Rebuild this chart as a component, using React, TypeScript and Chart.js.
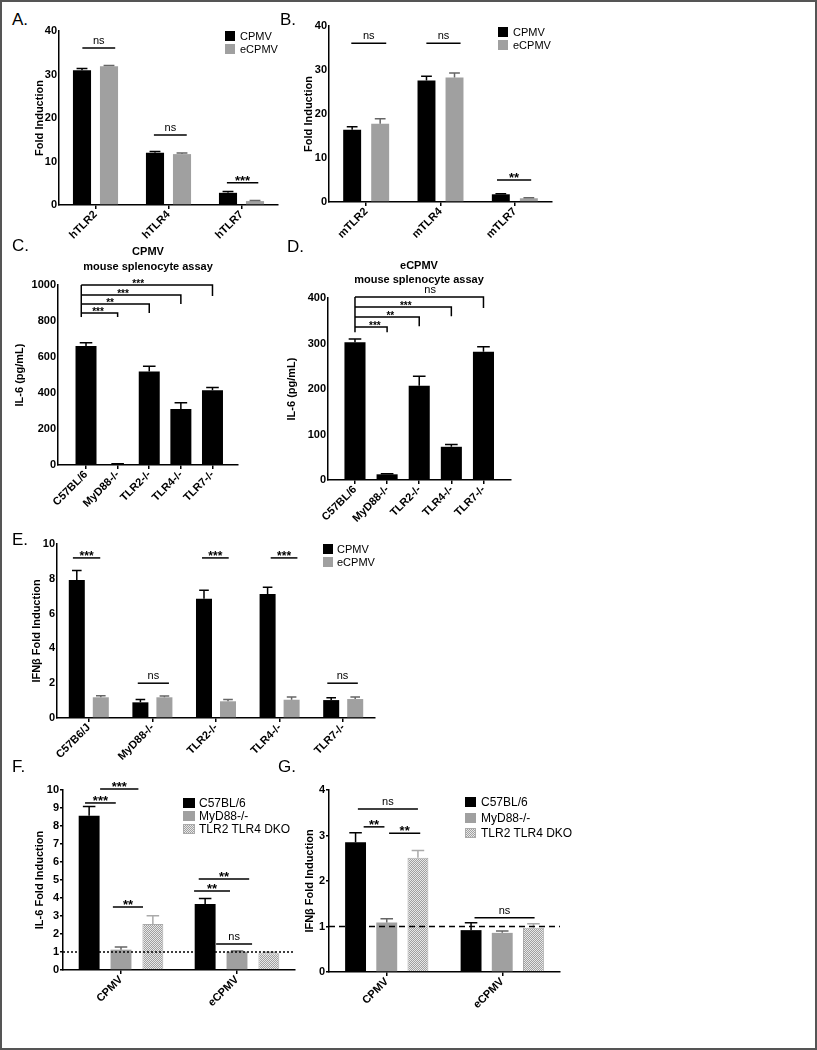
import React, { useEffect, useRef } from 'react';
import { Chart, registerables } from 'chart.js';

Chart.register(...registerables);

const FONT = '"Liberation Sans", Arial, Helvetica, sans-serif';
const BLACK = '#000000';
const GRAY = '#a0a0a0';
const GRAY_ERR = '#666666';
const DKO_ERR = '#aaaaaa';

// ---------------- data ----------------
// Panel A
const catsA = ['hTLR2', 'hTLR4', 'hTLR7'];
const cpmvA = [31.0, 12.0, 2.8];
const cpmvErrA = [0.4, 0.3, 0.3];
const ecpmvA = [31.9, 11.7, 0.9];
const ecpmvErrA = [0.15, 0.25, 0.15];
const sigA = [
  [0, -0.18, 0.27, 36.1, 'ns'],
  [1, -0.2, 0.25, 16.1, 'ns'],
  [2, -0.2, 0.23, 5.1, '***'],
];

// Panel B
const catsB = ['mTLR2', 'mTLR4', 'mTLR7'];
const cpmvB = [16.4, 27.6, 1.75];
const cpmvErrB = [0.7, 1.0, 0.1];
const ecpmvB = [17.8, 28.3, 0.85];
const ecpmvErrB = [1.1, 1.0, 0.1];
const sigB = [
  [0, -0.2, 0.27, 36.1, 'ns'],
  [1, -0.19, 0.27, 36.1, 'ns'],
  [2, -0.24, 0.22, 5.0, '**'],
];

// Panels C, D
const catsCD = ['C57BL/6', 'MyD88-/-', 'TLR2-/-', 'TLR4-/-', 'TLR7-/-'];
const il6C = [661, 5, 520, 311, 415];
const il6ErrC = [18, 2, 28, 35, 15];
// [target category, bracket level, drop level, text, label position]
const bracketsC = [
  [1, 844, 822, '***', 0.38],
  [2, 894, 844, '**', 0.76],
  [3, 944, 894, '***', 1.17],
  [4, 1000, 939, '***', 1.65],
];
const il6D = [303, 12.5, 207, 73, 282];
const il6ErrD = [7, 1.5, 21, 5, 11];
const bracketsD = [
  [1, 336, 325, '***', 0.62],
  [2, 358, 338, '**', 1.1],
  [3, 380, 360, '***', 1.58],
  [4, 402, 378, 'ns', 2.34],
];

// Panel E
const catsE = ['C57B6/J', 'MyD88-/-', 'TLR2-/-', 'TLR4-/-', 'TLR7-/-'];
const cpmvE = [7.93, 0.9, 6.86, 7.13, 1.03];
const cpmvErrE = [0.54, 0.17, 0.48, 0.38, 0.13];
const ecpmvE = [1.19, 1.19, 0.96, 1.05, 1.09];
const ecpmvErrE = [0.09, 0.08, 0.11, 0.15, 0.12];
const sigE = [
  [0, -0.25, 0.18, 9.2, '***'],
  [1, -0.23, 0.26, 2.0, 'ns'],
  [2, -0.22, 0.2, 9.2, '***'],
  [3, -0.14, 0.28, 9.2, '***'],
  [4, -0.25, 0.23, 2.0, 'ns'],
];

// Panels F, G
const catsFG = ['CPMV', 'eCPMV'];
const c57F = [8.57, 3.67];
const c57ErrF = [0.52, 0.3];
const myd88F = [1.13, 1.02];
const myd88ErrF = [0.15, 0.03];
const dkoF = [2.56, 0.93];
const dkoErrF = [0.46, 0.06];
const sigF = [
  [0, -0.31, -0.045, 9.28, '***'],
  [0, -0.18, 0.15, 10.06, '***'],
  [0, -0.07, 0.19, 3.5, '**'],
  [1, -0.37, -0.06, 4.39, '**'],
  [1, -0.33, 0.105, 5.06, '**'],
  [1, -0.18, 0.13, 1.44, 'ns'],
];
const c57G = [2.85, 0.92];
const c57ErrG = [0.21, 0.16];
const myd88G = [1.09, 0.86];
const myd88ErrG = [0.08, 0.04];
const dkoG = [2.51, 0.97];
const dkoErrG = [0.16, 0.09];
const sigG = [
  [0, -0.25, 0.27, 3.58, 'ns'],
  [0, -0.2, -0.02, 3.19, '**'],
  [0, 0.02, 0.29, 3.05, '**'],
  [1, -0.24, 0.28, 1.19, 'ns'],
];

// ---------------- helpers ----------------
function makePattern(): any {
  const c = document.createElement('canvas');
  c.width = 2;
  c.height = 2;
  const g = c.getContext('2d')!;
  g.fillStyle = '#e8e8e8';
  g.fillRect(0, 0, 2, 2);
  g.fillStyle = '#a0a0a0';
  g.fillRect(0, 0, 1, 1);
  g.fillRect(1, 1, 1, 1);
  return g.createPattern(c, 'repeat');
}

const TITLE_SIZE = 11;
const PAD_T = 26;
const PAD_R = 8;
const X_H = 62;

function annotPlugin(spec: any) {
  return {
    id: 'annot',
    afterDatasetsDraw(chart: any) {
      const ctx = chart.ctx;
      const xs = chart.scales.x;
      const ys = chart.scales.y;
      const px = (c: number, f: number) => xs.getPixelForValue(c + f);
      const py = (v: number) => ys.getPixelForValue(v);
      ctx.save();
      // error bars
      spec.datasets.forEach((d: any, di: number) => {
        const meta = chart.getDatasetMeta(di);
        meta.data.forEach((el: any, i: number) => {
          const p = el.getProps(['x', 'y', 'width'], true);
          const top = py(d.data[i] + d.errs[i]);
          const cw = p.width * 0.6;
          ctx.strokeStyle = d.errColor;
          ctx.lineWidth = 1.5;
          ctx.beginPath();
          ctx.moveTo(p.x, p.y);
          ctx.lineTo(p.x, top);
          ctx.moveTo(p.x - cw / 2, top);
          ctx.lineTo(p.x + cw / 2, top);
          ctx.stroke();
        });
      });
      // reference line at 1
      if (spec.refLine) {
        ctx.beginPath();
        ctx.setLineDash(spec.refLine === 'dotted' ? [2, 2] : [6, 4]);
        ctx.lineWidth = 1.5;
        ctx.strokeStyle = BLACK;
        const y = py(1);
        ctx.moveTo(chart.chartArea.left, y);
        ctx.lineTo(chart.chartArea.right, y);
        ctx.stroke();
        ctx.setLineDash([]);
      }
      const label = (t: string, x: number, y: number) => {
        ctx.fillStyle = BLACK;
        ctx.textAlign = 'center';
        ctx.textBaseline = 'alphabetic';
        if (t === 'ns') {
          ctx.font = `11px ${FONT}`;
          ctx.fillText(t, x, y - 4);
        } else {
          ctx.font = `bold ${spec.starSize || 12}px ${FONT}`;
          ctx.fillText(t, x, y + 2);
        }
      };
      ctx.strokeStyle = BLACK;
      ctx.lineWidth = 1.5;
      // significance lines
      (spec.sig || []).forEach((s: any) => {
        const [c, f1, f2, v, t] = s;
        const y = py(v);
        const x1 = px(c, f1);
        const x2 = px(c, f2);
        ctx.beginPath();
        ctx.moveTo(x1, y);
        ctx.lineTo(x2, y);
        ctx.stroke();
        label(t, (x1 + x2) / 2, y);
      });
      // brackets
      if (spec.brackets) {
        const lx = px(0, spec.bracketLeft || 0);
        const levels = spec.brackets.map((b: any) => b[1]);
        const drops = spec.brackets.map((b: any) => b[2]);
        ctx.beginPath();
        ctx.moveTo(lx, py(Math.max(...levels)));
        ctx.lineTo(lx, py(Math.min(...drops)));
        ctx.stroke();
        spec.brackets.forEach((b: any) => {
          const [to, lev, drop, t, lpos] = b;
          const y = py(lev);
          const rx = px(to, 0);
          ctx.beginPath();
          ctx.moveTo(lx, y);
          ctx.lineTo(rx, y);
          ctx.lineTo(rx, py(drop));
          ctx.stroke();
          label(t, px(lpos, 0), y);
        });
      }
      ctx.restore();
    },
  };
}

function Panel({ spec }: { spec: any }) {
  const ref = useRef<HTMLCanvasElement>(null);
  const lh = TITLE_SIZE * 1.2;
  const scaleLeft = spec.titleX - lh / 2;
  const cx = Math.floor(scaleLeft - 2);
  const padL = scaleLeft - cx;
  const yW = spec.area.l - scaleLeft;
  const cy = spec.area.t - PAD_T;
  const cw = spec.area.r + PAD_R - cx;
  const ch = spec.area.b + X_H - cy;

  useEffect(() => {
    const tickFont = { family: FONT, size: 11, weight: 'bold' as const, lineHeight: 1 };
    const gridX = {
      display: true,
      drawOnChartArea: false,
      drawTicks: true,
      tickLength: 4,
      color: BLACK,
      lineWidth: 1.5,
      offset: false,
    };
    const gridY = { ...gridX, tickLength: spec.yTick ?? 3 };
    const border = { display: true, color: BLACK, width: 1.5 };
    const chart = new Chart(ref.current as HTMLCanvasElement, {
      type: 'bar',
      data: {
        datasets: spec.datasets.map((d: any) => ({
          label: d.label,
          data: d.data.map((v: number, i: number) => ({ x: i, y: v })),
          backgroundColor: d.fill === 'pattern' ? makePattern() : d.fill,
          borderColor: d.border || d.fill,
          borderWidth: d.border ? 1 : 0,
          categoryPercentage: spec.catPct,
          barPercentage: spec.barPct,
        })),
      },
      options: {
        responsive: false,
        animation: false,
        devicePixelRatio: 1,
        layout: { padding: { left: padL, top: PAD_T, right: PAD_R, bottom: 0 } },
        plugins: { legend: { display: false }, tooltip: { enabled: false } },
        scales: {
          x: {
            type: 'linear',
            offset: false,
            min: spec.xMin,
            max: spec.xMax,
            bounds: 'data',
            afterBuildTicks: (s: any) => {
              s.ticks = spec.cats.map((_: string, i: number) => ({ value: i }));
            },
            afterFit: (s: any) => {
              s.height = X_H;
            },
            grid: gridX,
            border,
            ticks: {
              autoSkip: false,
              minRotation: 45,
              maxRotation: 45,
              padding: 0,
              color: BLACK,
              font: tickFont,
              callback: (_v: any, i: number) => spec.cats[i],
            },
          },
          y: {
            min: 0,
            max: spec.yMax,
            afterFit: (s: any) => {
              s.width = yW;
            },
            grid: gridY,
            border,
            ticks: {
              stepSize: spec.yStep,
              padding: 1,
              color: BLACK,
              font: tickFont,
              callback: (v: any) => String(v),
            },
            title: {
              display: true,
              text: spec.yTitle,
              color: BLACK,
              padding: 0,
              font: { family: FONT, size: TITLE_SIZE, weight: 'bold' },
            },
          },
        },
      } as any,
      plugins: [annotPlugin(spec)],
    } as any);
    return () => chart.destroy();
  }, []);

  return (
    <canvas
      ref={ref}
      width={cw}
      height={ch}
      style={{ position: 'absolute', left: cx, top: cy, width: cw, height: ch }}
    />
  );
}

function Txt({ x, y, s, size, bold, center }: any) {
  return (
    <div
      style={{
        position: 'absolute',
        left: x,
        top: y - 0.49 * size,
        fontFamily: FONT,
        fontSize: size,
        lineHeight: 1,
        fontWeight: bold ? 'bold' : 'normal',
        whiteSpace: 'nowrap',
        color: BLACK,
        transform: center ? 'translateX(-50%)' : undefined,
      }}
    >
      {s}
    </div>
  );
}

const PATTERN_CSS = 'repeating-conic-gradient(#a0a0a0 0% 25%, #e8e8e8 0% 50%) 0 0 / 2px 2px';

function Legend({ x, y, step, w, h, tx, size, items }: any) {
  return (
    <>
      {items.map((it: any, i: number) => (
        <React.Fragment key={i}>
          <div
            style={{
              position: 'absolute',
              left: x,
              top: y + i * step,
              width: w,
              height: h,
              boxSizing: 'border-box',
              background: it.fill === 'pattern' ? PATTERN_CSS : it.fill,
              border: it.fill === 'pattern' ? '1px solid #aaaaaa' : 'none',
            }}
          />
          <Txt x={tx} y={y + i * step + h / 2} s={it.label} size={size} />
        </React.Fragment>
      ))}
    </>
  );
}

// ---------------- panel specs ----------------
const twoSeries = (a: number[], ae: number[], b: number[], be: number[]) => [
  { label: 'CPMV', data: a, errs: ae, fill: BLACK, errColor: BLACK },
  { label: 'eCPMV', data: b, errs: be, fill: GRAY, errColor: GRAY_ERR },
];
const threeSeries = (a: number[], ae: number[], b: number[], be: number[], c: number[], ce: number[]) => [
  { label: 'C57BL/6', data: a, errs: ae, fill: BLACK, errColor: BLACK },
  { label: 'MyD88-/-', data: b, errs: be, fill: GRAY, errColor: GRAY_ERR },
  { label: 'TLR2 TLR4 DKO', data: c, errs: ce, fill: 'pattern', border: '#aaaaaa', errColor: DKO_ERR },
];

const specA = {
  area: { l: 59, t: 31, r: 278, b: 205 }, titleX: 40, yTitle: 'Fold Induction', yTick: 1,
  cats: catsA, xMin: -0.5, xMax: 2.5, yMax: 40, yStep: 10, catPct: 0.74, barPct: 0.67,
  datasets: twoSeries(cpmvA, cpmvErrA, ecpmvA, ecpmvErrA), sig: sigA, starSize: 13,
};
const specB = {
  area: { l: 329, t: 26, r: 552, b: 202 }, titleX: 309, yTitle: 'Fold Induction', yTick: 1,
  cats: catsB, xMin: -0.5, xMax: 2.5, yMax: 40, yStep: 10, catPct: 0.754, barPct: 0.64,
  datasets: twoSeries(cpmvB, cpmvErrB, ecpmvB, ecpmvErrB), sig: sigB, starSize: 13,
};
const specC = {
  area: { l: 58, t: 285, r: 238, b: 465 }, titleX: 20, yTitle: 'IL-6 (pg/mL)', yTick: 1,
  cats: catsCD, xMin: -0.886, xMax: 4.807, yMax: 1000, yStep: 200, catPct: 0.8, barPct: 0.83,
  datasets: [{ label: 'CPMV', data: il6C, errs: il6ErrC, fill: BLACK, errColor: BLACK }],
  brackets: bracketsC, bracketLeft: -0.15, starSize: 10,
};
const specD = {
  area: { l: 328, t: 298, r: 511, b: 480 }, titleX: 292, yTitle: 'IL-6 (pg/mL)', yTick: 1,
  cats: catsCD, xMin: -0.84, xMax: 4.857, yMax: 400, yStep: 100, catPct: 0.8, barPct: 0.82,
  datasets: [{ label: 'eCPMV', data: il6D, errs: il6ErrD, fill: BLACK, errColor: BLACK }],
  brackets: bracketsD, bracketLeft: 0, starSize: 10,
};
const specE = {
  area: { l: 57, t: 544, r: 375, b: 718 }, titleX: 37, yTitle: 'IFNβ Fold Induction', yTick: 1,
  cats: catsE, xMin: -0.5, xMax: 4.5, yMax: 10, yStep: 2, catPct: 0.755, barPct: 0.667,
  datasets: twoSeries(cpmvE, cpmvErrE, ecpmvE, ecpmvErrE), sig: sigE, starSize: 12,
};
const specF = {
  area: { l: 63, t: 790, r: 295, b: 970 }, titleX: 40, yTitle: 'IL-6 Fold Induction', yTick: 3,
  cats: catsFG, xMin: -0.5, xMax: 1.5, yMax: 10, yStep: 1, catPct: 0.824, barPct: 0.656,
  datasets: threeSeries(c57F, c57ErrF, myd88F, myd88ErrF, dkoF, dkoErrF), sig: sigF,
  refLine: 'dotted', starSize: 13,
};
const specG = {
  area: { l: 329, t: 790, r: 560, b: 972 }, titleX: 310, yTitle: 'IFNβ Fold Induction', yTick: 3,
  cats: catsFG, xMin: -0.5, xMax: 1.5, yMax: 4, yStep: 1, catPct: 0.81, barPct: 0.67,
  datasets: threeSeries(c57G, c57ErrG, myd88G, myd88ErrG, dkoG, dkoErrG), sig: sigG,
  refLine: 'dashed', starSize: 13,
};

const legend2 = [
  { label: 'CPMV', fill: BLACK },
  { label: 'eCPMV', fill: GRAY },
];
const legend3 = [
  { label: 'C57BL/6', fill: BLACK },
  { label: 'MyD88-/-', fill: GRAY },
  { label: 'TLR2 TLR4 DKO', fill: 'pattern' },
];

export default function App() {
  return (
    <div
      style={{
        position: 'absolute',
        left: 0,
        top: 0,
        width: 817,
        height: 1050,
        boxSizing: 'border-box',
        border: '2px solid #555555',
        background: '#ffffff',
        overflow: 'hidden',
      }}
    >
      <div style={{ position: 'absolute', left: -2, top: -2, width: 817, height: 1050 }}>
        <Panel spec={specA} />
        <Panel spec={specB} />
        <Panel spec={specC} />
        <Panel spec={specD} />
        <Panel spec={specE} />
        <Panel spec={specF} />
        <Panel spec={specG} />

        <Txt x={12} y={19} s="A." size={17} />
        <Txt x={280} y={19} s="B." size={17} />
        <Txt x={12} y={245} s="C." size={17} />
        <Txt x={287} y={246} s="D." size={17} />
        <Txt x={12} y={539} s="E." size={17} />
        <Txt x={12} y={766} s="F." size={17} />
        <Txt x={278} y={766} s="G." size={17} />

        <Txt x={148} y={251} s="CPMV" size={11} bold center />
        <Txt x={148} y={266} s="mouse splenocyte assay" size={11} bold center />
        <Txt x={419} y={265} s="eCPMV" size={11} bold center />
        <Txt x={419} y={279} s="mouse splenocyte assay" size={11} bold center />

        <Legend x={225} y={31} step={13} w={10} h={10} tx={240} size={11} items={legend2} />
        <Legend x={498} y={27} step={13} w={10} h={10} tx={513} size={11} items={legend2} />
        <Legend x={323} y={544} step={13} w={10} h={10} tx={337} size={11} items={legend2} />
        <Legend x={183} y={798} step={13} w={12} h={10} tx={199} size={12} items={legend3} />
        <Legend x={465} y={797} step={15.5} w={11} h={10} tx={481} size={12} items={legend3} />
      </div>
    </div>
  );
}
